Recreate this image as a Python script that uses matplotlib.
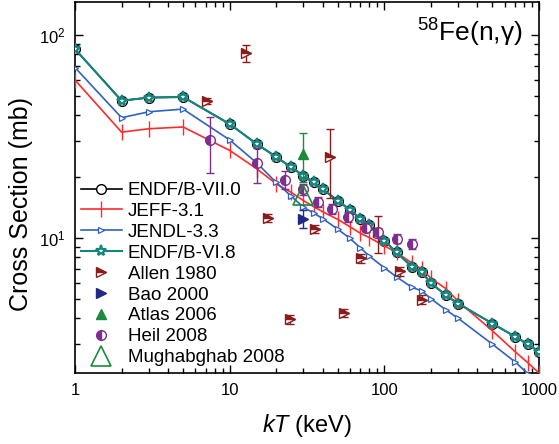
import matplotlib
matplotlib.use('Agg')
import matplotlib.pyplot as plt
from matplotlib.ticker import LogLocator, FixedLocator, FixedFormatter, NullFormatter

plt.rcParams['font.family'] = ['Liberation Sans', 'DejaVu Sans']
plt.rcParams['mathtext.fontset'] = 'custom'
plt.rcParams['mathtext.rm'] = 'Liberation Sans'
plt.rcParams['mathtext.it'] = 'Liberation Sans:italic'

# evaluated libraries (MACS vs kT)
kT = [1, 2, 3, 5, 10, 15, 20, 25, 30, 35, 40, 50, 60, 70, 80, 100, 120, 150, 175, 200,
      250, 300, 500, 700, 850, 1000]
endf7 = [85, 47.3, 49, 49.3, 36.3, 28.9, 25.0, 22.2, 20.2, 18.7, 17.3, 15.2, 13.7, 12.4,
         11.5, 9.66, 8.45, 7.2, 6.73, 5.97, 5.2, 4.73, 3.77, 3.25, 2.98, 2.74]
endf6 = endf7
jeff = [59.8, 33.1, 34.4, 35.1, 26.9, 21.8, 18.4, 16.7, 15.2, 14.2, 13.4, 12.3, 11.3, 10.5,
        10.0, 9.1, 8.45, 7.5, 7.0, 6.3, 5.6, 4.85, 3.47, 2.74, 2.41, 2.15]
jendl = [68.9, 39.0, 41.7, 43.0, 30.3, 23.3, 18.7, 16.0, 14.1, 13.2, 12.4, 11.0, 9.9, 8.9,
         8.1, 7.1, 6.4, 5.7, 5.45, 5.0, 4.4, 4.0, 2.98, 2.44, 2.13, 1.9]

# measurements
allen_x = [7.1, 12.7, 17.8, 24.5, 35.6, 44.5, 55, 71, 91, 127, 176]
allen_y = [47.1, 81, 12.5, 3.96, 11.0, 25, 4.24, 7.9, 10.6, 6.85, 4.95]
allen_err = [1.5, 8, 0.6, 0.2, 0.5, 9.4, 0.2, 0.4, 2.2, 0.35, 0.25]

bao_x = [30]
bao_y = [12.4]
bao_err = [1.2]

atlas_x = [30]
atlas_y = [25.7]
atlas_err = [7.0]

heil_x = [7.5, 15, 22.8, 30, 37.4, 45.6, 58.4, 75.7, 91.4, 121, 150]
heil_y = [30.2, 23.2, 19.3, 17.3, 15.0, 13.9, 12.6, 11.2, 10.6, 9.86, 9.3]
heil_err = [9.3, 4.6, 2.0, 1.0, 0.8, 0.8, 0.7, 0.6, 0.6, 0.5, 0.5]

mugh_x = [30]
mugh_y = [16.3]

teal = '#14857f'
red = '#ff2a2a'
blue = '#2f62c0'
maroon = '#8b1c1c'
navy = '#1f2a85'
green = '#1b8a3c'
purple = '#7d2e8e'

fig = plt.figure(figsize=(5.59, 4.44), dpi=100)
ax = fig.add_axes([75 / 559, 1 - 373 / 444, 464 / 559, 371 / 444])

h1, = ax.plot(kT, endf7, color='black', lw=1.2, marker='o', ms=7, mfc='white', mec='black',
              mew=1.0, label='ENDF/B-VII.0', zorder=3)
h2, = ax.plot(kT, jeff, color=red, lw=1.2, marker='|', ms=11, mew=1.0, label='JEFF-3.1',
              zorder=3)
h3, = ax.plot(kT, jendl, color=blue, lw=1.2, marker='>', ms=5, mfc='white', mec=blue,
              mew=0.9, label='JENDL-3.3', zorder=3)
h4, = ax.plot(kT, endf6, color=teal, lw=1.5, marker='*', ms=8, mfc='white', mec=teal,
              mew=1.6, label='ENDF/B-VI.8', zorder=4)

e5 = ax.errorbar(allen_x, allen_y, yerr=allen_err, fmt='>', color=maroon, ms=6.5,
                 mfc=maroon, mec=maroon, fillstyle='top', markerfacecoloralt='white',
                 capsize=3, elinewidth=1, label='Allen 1980', zorder=5)
e6 = ax.errorbar(bao_x, bao_y, yerr=bao_err, fmt='>', color=navy, ms=7, capsize=3,
                 elinewidth=1, label='Bao 2000', zorder=5)
e7 = ax.errorbar(atlas_x, atlas_y, yerr=atlas_err, fmt='^', color=green, ms=7, capsize=3,
                 elinewidth=1, label='Atlas 2006', zorder=5)
e8 = ax.errorbar(heil_x, heil_y, yerr=heil_err, fmt='o', color=purple, ms=7,
                 fillstyle='left', markerfacecoloralt='white', capsize=3, elinewidth=1,
                 label='Heil 2008', zorder=6)
h9, = ax.plot(mugh_x, mugh_y, '^', color=green, ms=15, mfc='none', mew=1.2,
              label='Mughabghab 2008', zorder=7)

ax.set_xscale('log')
ax.set_yscale('log')
ax.set_xlim(1, 1000)
ax.set_ylim(2.15, 145)

ax.xaxis.set_major_locator(FixedLocator([1, 10, 100, 1000]))
ax.xaxis.set_major_formatter(FixedFormatter(['1', '10', '100', '1000']))
ax.xaxis.set_minor_locator(LogLocator(base=10, subs=range(2, 10)))
ax.xaxis.set_minor_formatter(NullFormatter())
ax.yaxis.set_minor_locator(LogLocator(base=10, subs=range(2, 10)))
ax.yaxis.set_minor_formatter(NullFormatter())

ax.tick_params(which='both', direction='in', top=True, right=True, labelsize=12, width=1)
ax.tick_params(which='major', length=6, pad=7)
ax.tick_params(which='minor', length=3.5)
for s in ax.spines.values():
    s.set_linewidth(1.2)

ax.set_xlabel(r'$\it{kT}$ (keV)', fontsize=17)
ax.xaxis.set_label_coords(0.5, -0.105)
ax.set_ylabel('Cross Section (mb)', fontsize=18)
ax.yaxis.set_label_coords(-0.09, 0.455)

ax.text(0.965, 0.892, r'$^{58}$Fe(n,γ)', transform=ax.transAxes, ha='right',
        va='baseline', fontsize=19)

handles = [h1, h2, h3, h4, e5.lines[0], e6.lines[0], e7.lines[0], e8.lines[0], h9]
labels = ['ENDF/B-VII.0', 'JEFF-3.1', 'JENDL-3.3', 'ENDF/B-VI.8', 'Allen 1980',
          'Bao 2000', 'Atlas 2006', 'Heil 2008', 'Mughabghab 2008']
ax.legend(handles, labels, loc='upper left', bbox_to_anchor=(-0.012, 0.545), frameon=False,
          fontsize=13.5, handlelength=2.2, labelspacing=0.2, borderaxespad=0.2,
          handletextpad=0.3)

fig.savefig('out.png', dpi=100)
